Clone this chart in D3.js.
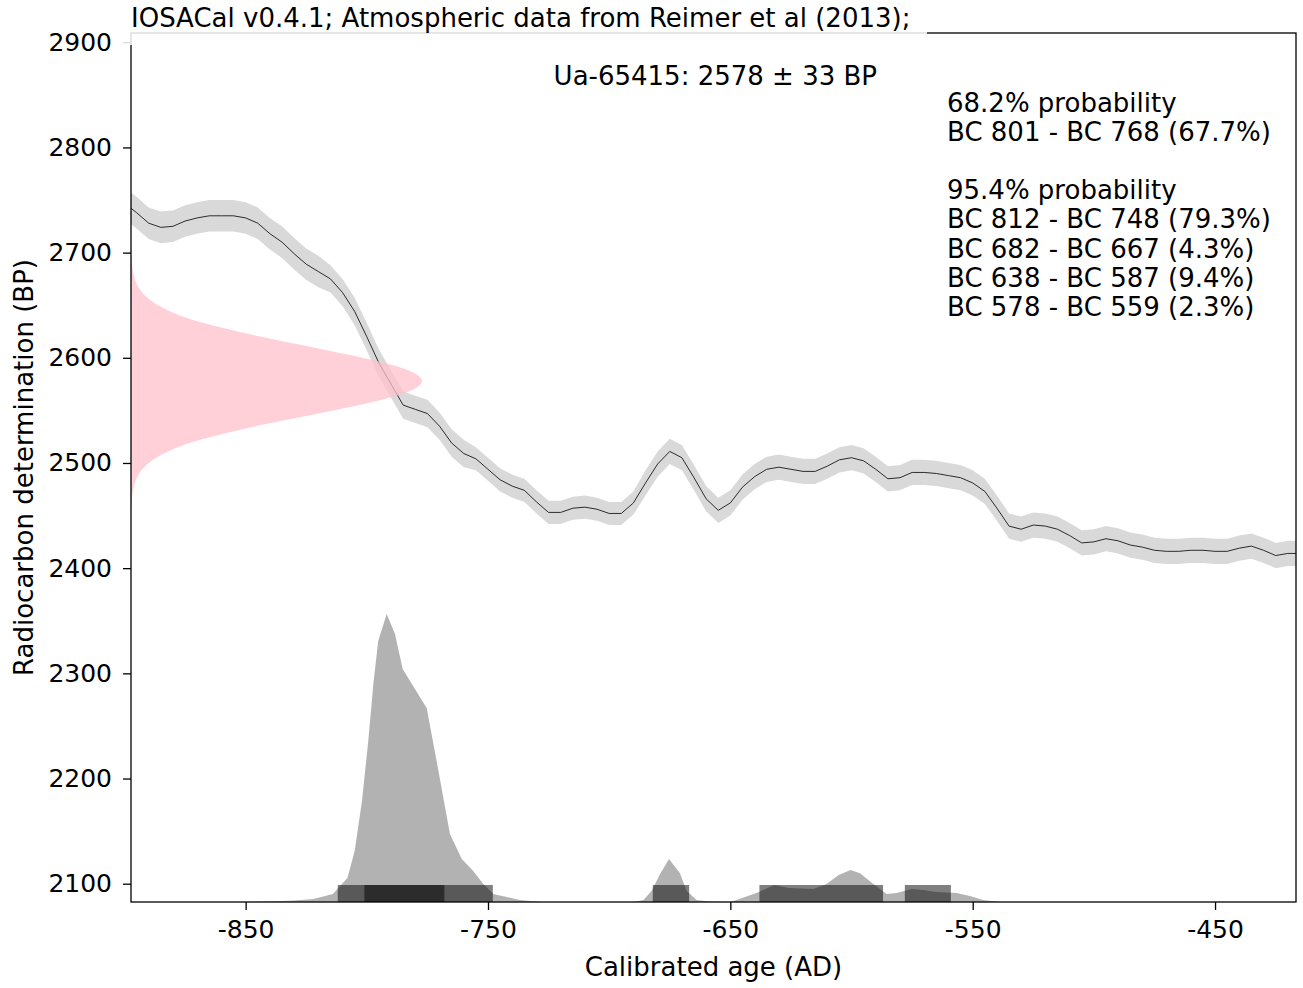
<!DOCTYPE html>
<html>
<head>
<meta charset="utf-8">
<script src="https://cdn.jsdelivr.net/npm/d3@7/dist/d3.min.js"></script>
<style>
  body { margin: 0; background: #fff; }
  text { font-family: "DejaVu Sans", sans-serif; fill: #000; }
  .axis path, .axis line { stroke: #000; stroke-width: 1.3px; }
</style>
</head>
<body>
<div id="chart"></div>
<script>
// calibration curve (IntCal13)
var calYears = [
  -900, -895, -890, -885, -880, -875, -870, -865, -860, -855,
  -850, -845, -840, -835, -830, -825, -820, -815, -810, -805,
  -800, -795, -790, -785, -780, -775, -770, -765, -760, -755,
  -750, -745, -740, -735, -730, -725, -720, -715, -710, -705,
  -700, -695, -690, -685, -680, -675, -670, -665, -660, -655,
  -650, -645, -640, -635, -630, -625, -620, -615, -610, -605,
  -600, -595, -590, -585, -580, -575, -570, -565, -560, -555,
  -550, -545, -540, -535, -530, -525, -520, -515, -510, -505,
  -500, -495, -490, -485, -480, -475, -470, -465, -460, -455,
  -450, -445, -440, -435, -430, -425, -420, -415
];
var calBP = [
  2747, 2738, 2728, 2724, 2725, 2730, 2733, 2735, 2735, 2735,
  2733, 2728, 2718, 2710, 2699, 2689, 2682, 2675, 2662, 2644,
  2620, 2595, 2575, 2555, 2551, 2547, 2535, 2519, 2509, 2504,
  2494, 2484, 2478, 2474, 2463, 2453, 2453, 2457, 2458, 2456,
  2452, 2452, 2462, 2481, 2499, 2511, 2505, 2486, 2466, 2455,
  2462, 2477, 2487, 2494, 2496, 2494, 2492, 2492, 2497, 2503,
  2505, 2502, 2494, 2485, 2486, 2491, 2491, 2490, 2488, 2486,
  2481, 2473, 2457, 2440, 2437, 2441, 2440, 2437, 2431, 2424,
  2425, 2428, 2426, 2422, 2420, 2417, 2416, 2416, 2417, 2417,
  2416, 2416, 2419, 2421, 2417, 2412, 2414, 2414
];
var calSigma = [
  15, 15, 15, 15, 15, 15, 15, 15, 15, 15,
  15, 15, 15, 15, 15, 15, 15, 13, 13, 13,
  13, 13, 13, 13, 13, 13, 13, 13, 13, 11,
  11, 11, 11, 11, 11, 11, 11, 11, 11, 11,
  11, 11, 11, 12, 12, 12, 12, 12, 12, 12,
  12, 12, 12, 12, 12, 12, 12, 12, 12, 12,
  12, 12, 12, 12, 12, 12, 12, 12, 12, 12,
  12, 12, 12, 12, 12, 12, 12, 12, 12, 12,
  12, 12, 12, 12, 12, 12, 12, 12, 12, 12,
  12, 12, 12, 12, 12, 12, 12, 12
];

// radiocarbon date Ua-65415: 2578 +/- 33 BP, shape of the pink curve
var dateBP = [
  2458, 2468, 2478, 2488, 2498, 2508, 2518, 2528, 2538, 2548, 2558, 2568, 2578,
  2588, 2598, 2608, 2618, 2628, 2638, 2648, 2658, 2668, 2678, 2688, 2698
];
var dateDensity = [
  0.0014, 0.004, 0.01, 0.024, 0.053, 0.106, 0.19, 0.32, 0.48, 0.66, 0.83, 0.955, 1,
  0.955, 0.83, 0.66, 0.48, 0.32, 0.19, 0.106, 0.053, 0.024, 0.01, 0.004, 0.0014
];

// calibrated probability distribution
var calibYears = [
  -850, -840, -830, -822, -814, -808, -805, -802, -799.4, -797.3,
  -795.3, -791.8, -788.4, -785.2, -775.3, -771.2, -765.7, -760.8, -756.1, -751.9,
  -747.8, -736.8, -728, -700, -690, -685.9, -682.5, -679, -675.3, -670.8,
  -668, -663.9, -658.4, -650, -646.3, -639.2, -631.9, -625.9, -615.8, -610.3,
  -605.3, -600.4, -596.5, -591, -585.5, -581.4, -575.2, -570.4, -565, -556.6,
  -551.2, -545.7, -538.8
];
var calibProb = [
  0, 0.002, 0.005, 0.01, 0.028, 0.083, 0.177, 0.351, 0.559, 0.757,
  0.906, 1, 0.931, 0.809, 0.674, 0.49, 0.236, 0.149, 0.108, 0.0625,
  0.028, 0.007, 0, 0, 0, 0.007, 0.038, 0.097, 0.149, 0.1,
  0.038, 0.007, 0.002, 0, 0.01, 0.031, 0.059, 0.049, 0.045, 0.0625,
  0.094, 0.111, 0.1, 0.0625, 0.028, 0.031, 0.045, 0.042, 0.035, 0.031,
  0.021, 0.007, 0
];

// highest density ranges
var range68 = [[-801, -768]];
var range95 = [[-812, -748], [-682, -667], [-638, -587], [-578, -559]];

var xTicks = [-850, -750, -650, -550, -450];
var yTicks = [2100, 2200, 2300, 2400, 2500, 2600, 2700, 2800, 2900];

var titleText = "IOSACal v0.4.1; Atmospheric data from Reimer et al (2013);";
var dateLabel = "Ua-65415: 2578 \u00b1 33 BP";
var intervalLines = [
  "68.2% probability",
  "BC 801 - BC 768 (67.7%)",
  "",
  "95.4% probability",
  "BC 812 - BC 748 (79.3%)",
  "BC 682 - BC 667 (4.3%)",
  "BC 638 - BC 587 (9.4%)",
  "BC 578 - BC 559 (2.3%)"
];

var margin = { top: 33, right: 7, bottom: 86, left: 131 },
    width = 1303 - margin.left - margin.right,
    height = 988 - margin.top - margin.bottom;

var svgRoot = d3.select("#chart")
    .append("svg")
    .attr("width", width + margin.left + margin.right)
    .attr("height", height + margin.top + margin.bottom);

var svg = svgRoot.append("g")
    .attr("transform", "translate(" + margin.left + "," + margin.top + ")");

var x = d3.scaleLinear()
    .domain([-897.3, -416.6])
    .range([0, width]);

var y = d3.scaleLinear()
    .domain([2082.6, 2908.8])
    .range([height, 0]);

// probability scales for the two distributions
var probY = d3.scaleLinear().domain([0, 1]).range([height, height - 288]);
var densX = d3.scaleLinear().domain([0, 1]).range([0, 291]);

svg.append("clipPath")
    .attr("id", "plotClip")
    .append("rect")
    .attr("width", width)
    .attr("height", height);

var plot = svg.append("g").attr("clip-path", "url(#plotClip)");

var calData = calYears.map(function (d, i) {
    return { year: d, bp: calBP[i], sigma: calSigma[i] };
});

// curve band
plot.append("path")
    .datum(calData)
    .attr("fill", "#000")
    .attr("fill-opacity", 0.15)
    .attr("d", d3.area()
        .x(function (d) { return x(d.year); })
        .y0(function (d) { return y(d.bp - d.sigma); })
        .y1(function (d) { return y(d.bp + d.sigma); }));

plot.append("path")
    .datum(calData)
    .attr("fill", "none")
    .attr("stroke", "#000")
    .attr("stroke-opacity", 0.8)
    .attr("stroke-width", 1)
    .attr("d", d3.line()
        .x(function (d) { return x(d.year); })
        .y(function (d) { return y(d.bp); }));

// radiocarbon date distribution
var dateData = dateBP.map(function (d, i) { return { bp: d, p: dateDensity[i] }; });

plot.append("path")
    .datum(dateData)
    .attr("fill", "pink")
    .attr("fill-opacity", 0.75)
    .attr("d", d3.area()
        .curve(d3.curveMonotoneY)
        .y(function (d) { return y(d.bp); })
        .x0(0)
        .x1(function (d) { return densX(d.p); }));

// calibrated distribution
var calibData = calibYears.map(function (d, i) { return { year: d, p: calibProb[i] }; });

plot.append("path")
    .datum(calibData)
    .attr("fill", "#000")
    .attr("fill-opacity", 0.3)
    .attr("d", d3.area()
        .x(function (d) { return x(d.year); })
        .y0(height)
        .y1(function (d) { return probY(d.p); }));

function drawRanges(ranges) {
    plot.append("g")
        .selectAll("rect")
        .data(ranges)
        .enter()
        .append("rect")
        .attr("x", function (d) { return x(d[0]); })
        .attr("width", function (d) { return x(d[1]) - x(d[0]); })
        .attr("y", height - 17)
        .attr("height", 17)
        .attr("fill", "#000")
        .attr("fill-opacity", 0.5);
}
drawRanges(range95);
drawRanges(range68);

// axes
svg.append("g")
    .attr("class", "axis")
    .attr("transform", "translate(0," + height + ")")
    .style("font-size", "25px")
    .call(d3.axisBottom(x).tickValues(xTicks).tickSize(8).tickPadding(10)
        .tickFormat(function (d) { return String(d); }));

svg.append("g")
    .attr("class", "axis")
    .style("font-size", "25px")
    .call(d3.axisLeft(y).tickValues(yTicks).tickSize(8).tickPadding(11)
        .tickFormat(function (d) { return String(d); }));

svg.selectAll(".axis .domain").remove();
svg.selectAll(".axis text").attr("font-family", "DejaVu Sans");

svg.append("rect")
    .attr("width", width)
    .attr("height", height)
    .attr("fill", "none")
    .attr("stroke", "#000")
    .attr("stroke-width", 1.3);

// title box covering the top spine
svgRoot.append("rect")
    .attr("x", 120)
    .attr("y", 0)
    .attr("width", 807)
    .attr("height", 45)
    .attr("fill", "#fff")
    .attr("fill-opacity", 0.85);

svgRoot.append("text")
    .attr("x", 131)
    .attr("y", 27)
    .style("font-size", "26px")
    .text(titleText);

svg.append("text")
    .attr("x", x(-650) - 15)
    .attr("y", 52)
    .attr("text-anchor", "middle")
    .style("font-size", "26px")
    .text(dateLabel);

svg.append("g")
    .selectAll("text")
    .data(intervalLines)
    .enter()
    .append("text")
    .attr("x", 816)
    .attr("y", function (d, i) { return 79 + i * 29.1; })
    .style("font-size", "26px")
    .text(function (d) { return d; });

// axis titles
svgRoot.append("text")
    .attr("x", margin.left + width / 2)
    .attr("y", 976)
    .attr("text-anchor", "middle")
    .style("font-size", "26px")
    .text("Calibrated age (AD)");

svgRoot.append("text")
    .attr("transform", "translate(33," + (margin.top + height / 2) + ") rotate(-90)")
    .attr("text-anchor", "middle")
    .style("font-size", "26px")
    .text("Radiocarbon determination (BP)");
</script>
</body>
</html>
